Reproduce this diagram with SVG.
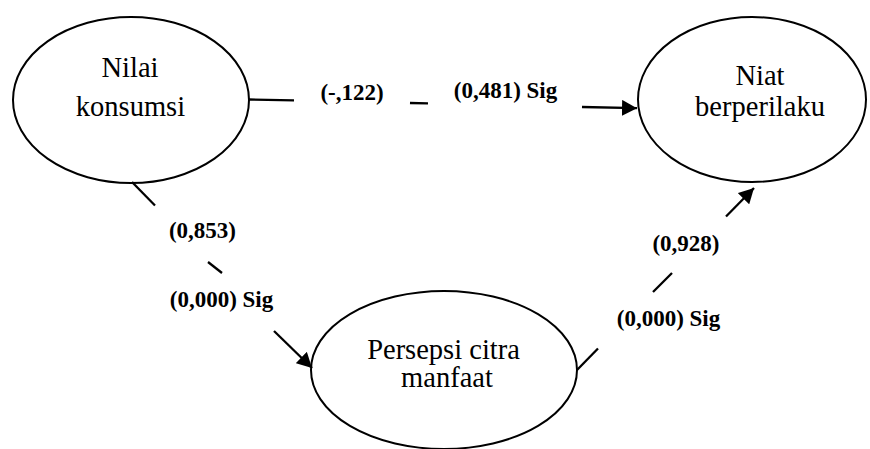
<svg xmlns="http://www.w3.org/2000/svg" width="870" height="449" viewBox="0 0 870 449">
<style>
.node{fill:#fff;stroke:#000;stroke-width:2}
.nt{font-size:28.5px;fill:#000;text-anchor:middle}
.lb{font-size:23px;font-weight:bold;fill:#000;text-anchor:middle}
.c{stroke:#000;stroke-width:2.3;fill:none}
</style>
<defs>
<marker id="ah" markerUnits="userSpaceOnUse" markerWidth="16" markerHeight="16" refX="15" refY="8" orient="auto">
<path d="M0,0 L15,8 L0,16 Z" fill="#000"/>
</marker>
</defs>
<rect width="870" height="449" fill="#fff"/>
<g font-family="Liberation Serif, Times New Roman, DejaVu Serif, serif">
<g id="node-nilai">
<ellipse class="node" cx="131" cy="100" rx="118" ry="83"/>
<text class="nt" x="130" y="77">Nilai</text>
<text class="nt" x="130.5" y="116">konsumsi</text>
</g>
<g id="node-niat">
<ellipse class="node" cx="752" cy="99.5" rx="114" ry="82.5"/>
<text class="nt" x="760" y="85">Niat</text>
<text class="nt" x="760" y="116">berperilaku</text>
</g>
<g id="node-persepsi">
<ellipse class="node" cx="444" cy="370" rx="133" ry="79"/>
<text class="nt" x="443.5" y="359">Persepsi citra</text>
<text class="nt" x="447" y="387">manfaat</text>
</g>
<g id="connectors">
<line class="c" x1="249" y1="99.5" x2="294" y2="100.3"/>
<line class="c" x1="410" y1="103" x2="428" y2="103.4"/>
<line class="c" x1="582" y1="107" x2="637" y2="108.2" marker-end="url(#ah)"/>
<line class="c" x1="132" y1="182" x2="155" y2="205.5"/>
<line class="c" x1="208" y1="262" x2="222" y2="273"/>
<line class="c" x1="274" y1="331" x2="312" y2="368" marker-end="url(#ah)"/>
<line class="c" x1="577" y1="370" x2="598" y2="348.5"/>
<line class="c" x1="653" y1="292" x2="672" y2="273"/>
<line class="c" x1="726" y1="216.5" x2="754" y2="188" marker-end="url(#ah)"/>
</g>
<g id="labels">
<text class="lb" x="352" y="100">(-,122)</text>
<text class="lb" x="505.5" y="98">(0,481) Sig</text>
<text class="lb" x="202.5" y="238">(0,853)</text>
<text class="lb" x="221.5" y="306.5">(0,000) Sig</text>
<text class="lb" x="686" y="250.5">(0,928)</text>
<text class="lb" x="668.5" y="326">(0,000) Sig</text>
</g>
</g>
</svg>
